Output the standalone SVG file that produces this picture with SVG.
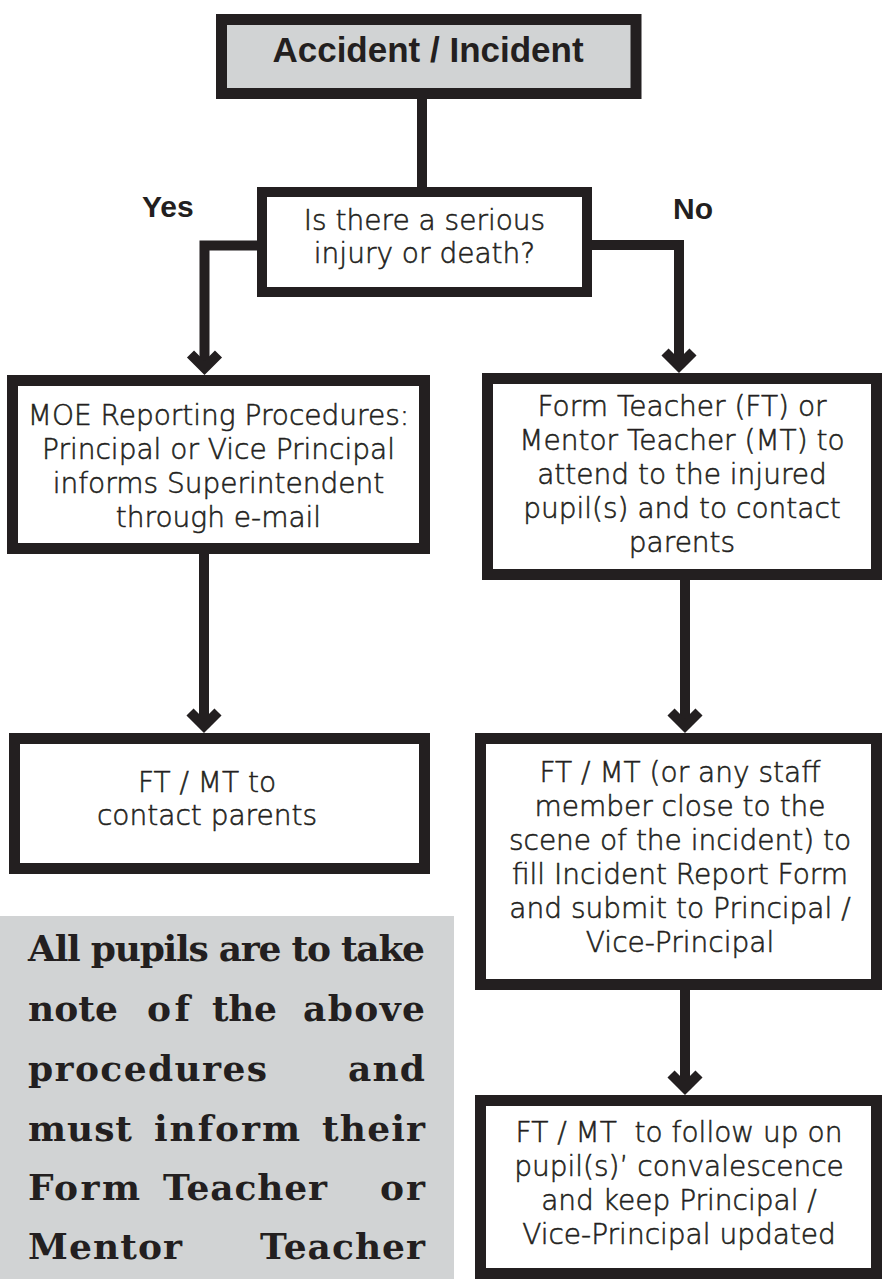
<svg xmlns="http://www.w3.org/2000/svg" width="885" height="1279" viewBox="0 0 885 1279">
  <style>
    .box { fill: #ffffff; stroke: #231f20; stroke-width: 11; }
    .grey { fill: #d1d3d4; }
    .lbl { font-family: "DejaVu Sans", "Liberation Sans", sans-serif; font-weight: 200; font-size: 28px; fill: #231f20; stroke: #231f20; stroke-width: 0.55; text-anchor: middle; }
    .head { font-family: "Liberation Sans", Arial, sans-serif; font-weight: bold; fill: #231f20; }
    .note { font-family: "DejaVu Serif", "Liberation Serif", serif; font-weight: bold; font-size: 36px; fill: #231f20; }
    .wire { fill: none; stroke: #231f20; stroke-width: 10; stroke-linejoin: miter; }
  </style>
  <defs>
    <!-- thick open chevron; the path vertex sits 7px above the outer tip -->
    <marker id="chev" markerUnits="userSpaceOnUse" orient="auto" markerWidth="50" markerHeight="50" viewBox="-25 -25 50 50" refX="0" refY="0" overflow="visible">
      <path d="M-14,-14 L0,0 L-14,14" fill="none" stroke="#231f20" stroke-width="10" stroke-linejoin="miter"/>
    </marker>
  </defs>

  <rect width="885" height="1279" fill="#ffffff"/>

  <!-- connectors -->
  <g id="connectors">
    <path class="wire" d="M422,99 V187"/>
    <path class="wire" d="M257,245.5 H204.5 V368" marker-end="url(#chev)"/>
    <path class="wire" d="M592,245 H679 V366" marker-end="url(#chev)"/>
    <path class="wire" d="M204,554 V726" marker-end="url(#chev)"/>
    <path class="wire" d="M685,580 V726" marker-end="url(#chev)"/>
    <path class="wire" d="M685,990 V1088" marker-end="url(#chev)"/>
  </g>

  <!-- branch labels -->
  <text id="yes" class="head" x="142" y="217" font-size="30">Yes</text>
  <text id="no" class="head" x="673" y="219" font-size="30">No</text>

  <g id="start">
    <rect class="box" x="221.5" y="19.5" width="414.5" height="74" style="fill:#d1d3d4"/>
    <text class="head" x="428" y="62" font-size="35" text-anchor="middle">Accident / Incident</text>
  </g>

  <g id="decision">
    <rect class="box" x="262" y="192" width="325" height="100" style="stroke-width:10"/>
    <text class="lbl" x="424.5" y="230">Is there a serious</text>
    <text class="lbl" x="424.5" y="263">injury or death?</text>
  </g>

  <g id="moe">
    <rect class="box" x="12.5" y="380.5" width="412" height="168"/>
    <text class="lbl" x="218.5" y="425">MOE Reporting Procedures:</text>
    <text class="lbl" x="218.5" y="459">Principal or Vice Principal</text>
    <text class="lbl" x="218.5" y="493">informs Superintendent</text>
    <text class="lbl" x="218.5" y="527">through e-mail</text>
  </g>

  <g id="contact">
    <rect class="box" x="14.5" y="738.5" width="410" height="130"/>
    <text class="lbl" x="207" y="792">FT / MT to</text>
    <text class="lbl" x="207" y="825">contact parents</text>
  </g>

  <g id="attend">
    <rect class="box" x="487.5" y="378.5" width="389" height="196"/>
    <text class="lbl" x="682" y="416">Form Teacher (FT) or</text>
    <text class="lbl" x="682" y="450">Mentor Teacher (MT) to</text>
    <text class="lbl" x="682" y="484">attend to the injured</text>
    <text class="lbl" x="682" y="518">pupil(s) and to contact</text>
    <text class="lbl" x="682" y="552">parents</text>
  </g>

  <g id="report">
    <rect class="box" x="480.5" y="738.5" width="396" height="246"/>
    <text class="lbl" x="680" y="782">FT / MT (or any staff</text>
    <text class="lbl" x="680" y="816">member close to the</text>
    <text class="lbl" x="680" y="850">scene of the incident) to</text>
    <text class="lbl" x="680" y="884">fill Incident Report Form</text>
    <text class="lbl" x="680" y="918">and submit to Principal /</text>
    <text class="lbl" x="680" y="952">Vice-Principal</text>
  </g>

  <g id="followup">
    <rect class="box" x="480.5" y="1100.5" width="396" height="173"/>
    <text class="lbl" x="679" y="1142" style="white-space:pre">FT / MT  to follow up on</text>
    <text class="lbl" x="679" y="1176">pupil(s)’ convalescence</text>
    <text class="lbl" x="679" y="1210">and keep Principal /</text>
    <text class="lbl" x="679" y="1244">Vice-Principal updated</text>
  </g>

  <g id="notice">
    <rect class="grey" x="0" y="916" width="454" height="363"/>
    <text class="note" x="28" y="961" textLength="397" lengthAdjust="spacing">All pupils  are to take</text>
    <text class="note" x="28" y="1021" textLength="90" lengthAdjust="spacing">note</text>
    <text class="note" x="147" y="1021" textLength="43" lengthAdjust="spacing">of</text>
    <text class="note" x="212" y="1021" textLength="65" lengthAdjust="spacing">the</text>
    <text class="note" x="303" y="1021" textLength="122" lengthAdjust="spacing">above</text>
    <text class="note" x="28" y="1081" textLength="239" lengthAdjust="spacing">procedures</text>
    <text class="note" x="348" y="1081" textLength="77" lengthAdjust="spacing">and</text>
    <text class="note" x="28" y="1141" textLength="104" lengthAdjust="spacing">must</text>
    <text class="note" x="154" y="1141" textLength="146" lengthAdjust="spacing">inform</text>
    <text class="note" x="322" y="1141" textLength="103" lengthAdjust="spacing">their</text>
    <text class="note" x="28" y="1200" textLength="112" lengthAdjust="spacing">Form</text>
    <text class="note" x="163" y="1200" textLength="164" lengthAdjust="spacing">Teacher</text>
    <text class="note" x="380" y="1200" textLength="45" lengthAdjust="spacing">or</text>
    <text class="note" x="28" y="1259" textLength="154" lengthAdjust="spacing">Mentor</text>
    <text class="note" x="260" y="1259" textLength="165" lengthAdjust="spacing">Teacher</text>
  </g>
</svg>
